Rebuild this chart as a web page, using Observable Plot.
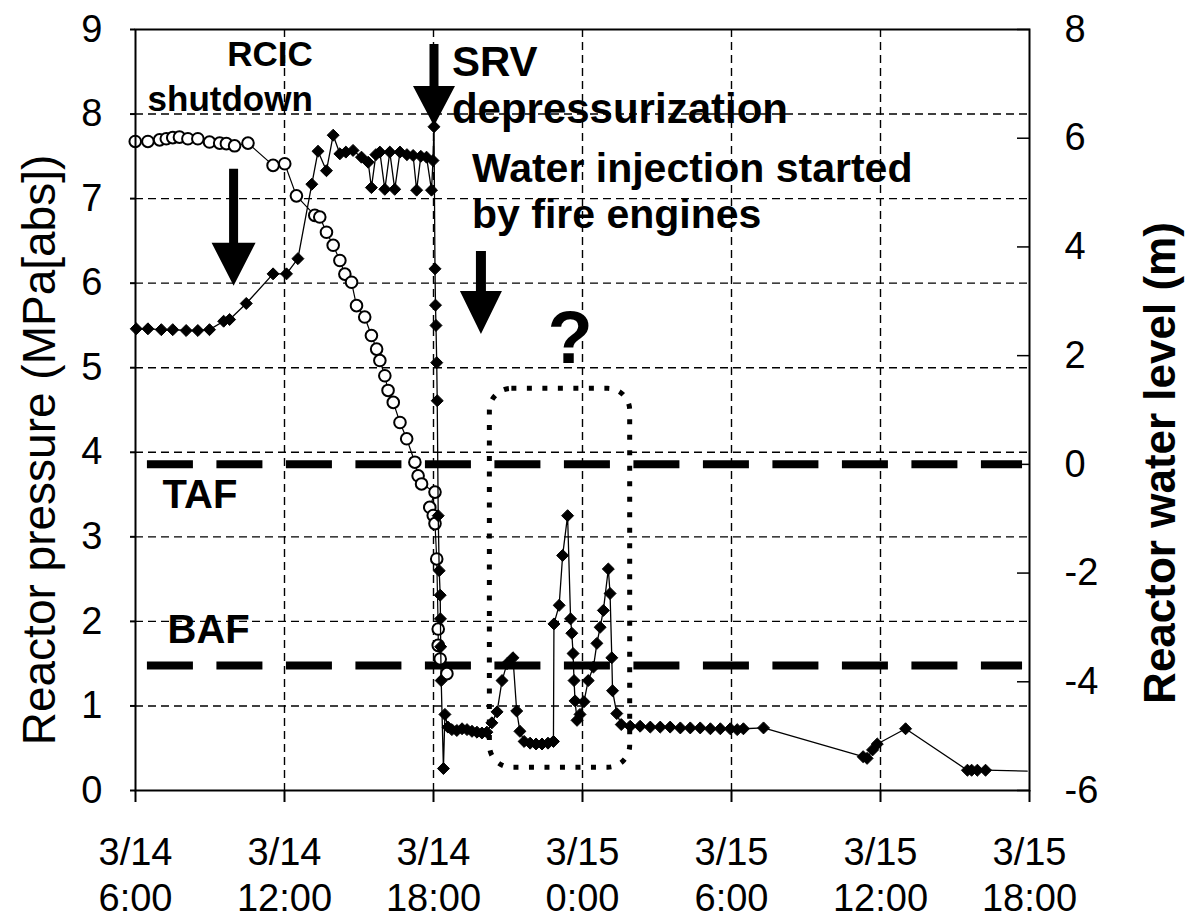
<!DOCTYPE html>
<html><head><meta charset="utf-8">
<script src="https://cdn.jsdelivr.net/npm/d3@7"></script>
<script src="https://cdn.jsdelivr.net/npm/@observablehq/plot@0.6"></script>
<style>
html,body{margin:0;padding:0;background:#fff;}
#chart{width:1188px;height:920px;overflow:hidden;}
</style></head><body><div id="chart"></div>
<script>
// ---------- data ----------
// time in hours since 3/14 0:00
const xTicks = [6, 12, 18, 24, 30, 36, 42];
const xTickLabels = ["3/14\n6:00", "3/14\n12:00", "3/14\n18:00", "3/15\n0:00", "3/15\n6:00", "3/15\n12:00", "3/15\n18:00"];
const pressureTicks = [0, 1, 2, 3, 4, 5, 6, 7, 8, 9];
const levelTicks = [-6, -4, -2, 0, 2, 4, 6, 8];

// Reactor pressure (MPa[abs]) - filled diamonds
const pressureHours = [
  6.03, 6.50, 7.04, 7.50, 8.04, 8.51, 8.98, 9.55, 9.79, 10.46,
  11.54, 12.08, 12.54, 13.10, 13.35, 13.69, 13.96, 14.23, 14.47, 14.76,
  15.10, 15.37, 15.50, 15.68, 15.84, 16.04, 16.24, 16.44, 16.65, 16.93,
  17.18, 17.32, 17.49, 17.72, 17.92, 17.98, 18.02, 18.06, 18.08, 18.10,
  18.13, 18.15, 18.19, 18.23, 18.27, 18.28, 18.29, 18.31, 18.40, 18.46,
  18.58, 18.74, 18.94, 19.15, 19.35, 19.55, 19.75, 19.95, 20.15, 20.35,
  20.56, 20.76, 20.96, 21.20, 21.35, 21.48, 21.65, 21.89, 22.13, 22.37,
  22.61, 22.83, 22.85, 23.06, 23.20, 23.40, 23.52, 23.57, 23.62, 23.66,
  23.70, 23.78, 23.90, 24.06, 24.23, 24.44, 24.58, 24.71, 24.84, 25.04,
  25.11, 25.18, 25.21, 25.38, 25.56, 25.92, 26.32, 26.73, 27.13, 27.53,
  27.94, 28.34, 28.74, 29.15, 29.55, 29.95, 30.23, 30.48, 31.29, 35.30,
  35.46, 35.68, 35.87, 37.01, 39.50, 39.67, 39.90, 40.23, 41.91
];
const pressureMPa = [
  5.46, 5.46, 5.45, 5.45, 5.44, 5.44, 5.45, 5.55, 5.57, 5.76,
  6.11, 6.11, 6.29, 7.17, 7.56, 7.33, 7.75, 7.53, 7.55, 7.57,
  7.49, 7.43, 7.13, 7.52, 7.55, 7.11, 7.55, 7.11, 7.55, 7.52,
  7.51, 7.10, 7.50, 7.49, 7.10, 7.45, 7.85, 6.17, 5.74, 5.50,
  5.06, 4.61, 3.25, 2.60, 2.31, 2.03, 1.70, 1.30, 0.26, 0.90,
  0.75, 0.72, 0.71, 0.73, 0.72, 0.70, 0.69, 0.68, 0.69, 0.80,
  0.93, 1.30, 1.50, 1.57, 0.94, 0.70, 0.58, 0.56, 0.55, 0.55,
  0.56, 0.58, 1.97, 2.19, 2.78, 3.25, 2.03, 1.86, 1.62, 1.30,
  1.06, 0.83, 0.90, 1.05, 1.30, 1.46, 1.74, 1.93, 2.13, 2.62,
  2.33, 1.57, 1.18, 0.91, 0.78, 0.76, 0.76, 0.75, 0.75, 0.75,
  0.74, 0.74, 0.74, 0.73, 0.73, 0.73, 0.72, 0.73, 0.74, 0.40,
  0.38, 0.48, 0.55, 0.73, 0.24, 0.24, 0.24, 0.24, 0.23
];

// Reactor water level (m) - open circles
const levelHours = [
  5.99, 6.50, 6.97, 7.24, 7.50, 7.77, 8.11, 8.51, 8.98, 9.39,
  9.66, 9.99, 10.53, 11.54, 12.01, 12.48, 13.22, 13.42, 13.69, 13.96,
  14.23, 14.43, 14.70, 14.90, 15.23, 15.50, 15.71, 15.84, 16.04, 16.17,
  16.38, 16.65, 16.92, 17.25, 17.38, 17.52, 18.06, 17.85, 17.99, 18.06,
  18.13, 18.19, 18.19, 18.27, 18.54
];
const levelM = [
  5.94, 5.94, 5.97, 5.99, 6.01, 6.02, 5.99, 5.99, 5.93, 5.91,
  5.90, 5.86, 5.91, 5.50, 5.53, 4.94, 4.58, 4.55, 4.27, 4.03,
  3.75, 3.50, 3.35, 2.92, 2.71, 2.37, 2.12, 1.91, 1.63, 1.36,
  1.14, 0.77, 0.47, 0.04, -0.21, -0.36, -0.51, -0.79, -0.94, -1.09,
  -1.74, -3.03, -3.33, -3.58, -3.85
];

// Reference levels (m): top and bottom of active fuel
const fuelLevelNames = ["TAF", "BAF"];
const fuelLevelM = [0, -3.7];

// ---------- build ----------
const FONT = "'Liberation Sans', Arial, Helvetica, sans-serif";
const toLeft = m => (m + 6) * 9 / 14;           // right axis (m) -> left axis units
const toRight = p => Math.round(p * 14 / 9 - 6);

const pressure = pressureHours.map((h, i) => ({h, p: pressureMPa[i]}));
const level = levelHours.map((h, i) => ({h, p: toLeft(levelM[i])}));
const fuel = fuelLevelNames.map((name, i) => ({name, p: toLeft(fuelLevelM[i])}));

function arrowShape(headLen, headHalf, shaftHalf) {
  return {
    draw(c, l) {
      const b = -(l - headLen);
      c.moveTo(-shaftHalf, 0);
      c.lineTo(shaftHalf, 0);
      c.lineTo(shaftHalf, b);
      c.lineTo(headHalf, b);
      c.lineTo(0, -l);
      c.lineTo(-headHalf, b);
      c.lineTo(-shaftHalf, b);
      c.closePath();
    }
  };
}

const gridStyle = {stroke: "black", strokeOpacity: 1, strokeWidth: 1.4, strokeDasharray: "8,5"};
const bold = {fontWeight: "bold", fill: "black", lineAnchor: "bottom"};

const chart = Plot.plot({
  width: 1188,
  height: 920,
  marginLeft: 135,
  marginRight: 159,
  marginTop: 29,
  marginBottom: 130,
  x: {domain: [6, 42], label: null},
  y: {domain: [0, 9], label: null},
  style: {fontFamily: FONT, fontSize: "38px", color: "black", background: "white", overflow: "visible"},
  marks: [
    Plot.gridY(d3.range(1, 9), gridStyle),
    Plot.gridX(xTicks.slice(1, -1), gridStyle),
    // TAF / BAF
    Plot.ruleY(fuel, {y: "p", x1: 6.48, x2: 41.72, stroke: "black", strokeWidth: 8, strokeDasharray: "46,23.5"}),
    Plot.text(fuel, {x: d => d.name === "TAF" ? 7.09 : 7.29, y: d => d.name === "TAF" ? d.p - 0.52 : d.p + 0.26, text: "name", textAnchor: "start", fontSize: 40, ...bold}),
    // dotted "?" box
    Plot.rect([{x1: 20.27, x2: 25.92, y1: 0.27, y2: 4.75}], {x1: "x1", x2: "x2", y1: "y1", y2: "y2", rx: 22, fill: "none", stroke: "black", strokeWidth: 5, strokeDasharray: "5,10.5"}),
    Plot.text(["?"], {x: 23.5, y: 5.06, textAnchor: "middle", fontSize: 74, ...bold}),
    // water level
    Plot.line(level, {x: "h", y: "p", stroke: "black", strokeWidth: 1.2}),
    Plot.dot(level, {x: "h", y: "p", r: 5.8, fill: "white", stroke: "black", strokeWidth: 2}),
    // pressure
    Plot.line(pressure, {x: "h", y: "p", stroke: "black", strokeWidth: 1.3}),
    Plot.dot(pressure, {x: "h", y: "p", filter: (d, i) => i < pressure.length - 1, symbol: "diamond2", r: 5.4, fill: "black", stroke: "black", strokeWidth: 1}),
    // arrows
    Plot.vector([{h: 9.95, p: 5.97}], {x: "h", y: "p", length: 117, rotate: 180, anchor: "end", shape: arrowShape(43, 22, 4.5), fill: "black", stroke: "none"}),
    Plot.vector([{h: 18.02, p: 7.86}], {x: "h", y: "p", length: 82, rotate: 180, anchor: "end", shape: arrowShape(40, 21, 4.5), fill: "black", stroke: "none"}),
    Plot.vector([{h: 19.91, p: 5.40}], {x: "h", y: "p", length: 83, rotate: 180, anchor: "end", shape: arrowShape(43, 21, 5), fill: "black", stroke: "none"}),
    // annotations
    Plot.text(["RCIC\nshutdown"], {x: 13.14, y: 8.04, textAnchor: "end", fontSize: 35, lineHeight: 1.29, ...bold}),
    Plot.text(["SRV\ndepressurization"], {x: 18.74, y: 7.90, textAnchor: "start", fontSize: 42, lineHeight: 1.1, ...bold}),
    Plot.text(["Water injection started\nby fire engines"], {x: 19.55, y: 6.65, textAnchor: "start", fontSize: 41, lineHeight: 1.12, ...bold}),
    // frame & axes
    Plot.frame({stroke: "black", strokeWidth: 2}),
    Plot.axisX(xTicks, {tickSize: 12, tickPadding: 30, fontSize: 38, lineHeight: 1.21, strokeWidth: 2,
      tickFormat: d => xTickLabels[xTicks.indexOf(d)]}),
    Plot.axisY(pressureTicks, {anchor: "left", tickSize: 5, tickPadding: 28, fontSize: 38, strokeWidth: 2, tickFormat: d => String(d)}),
    Plot.axisY(levelTicks.map(toLeft), {anchor: "right", tickSize: -13, strokeWidth: 1.5, tickFormat: () => ""}),
    Plot.axisY(levelTicks.map(toLeft), {anchor: "right", tickSize: 0, tickPadding: 35, fontSize: 38, tickFormat: d => String(toRight(d))}),
    // axis titles
    Plot.text(["Reactor pressure (MPa[abs])"], {frameAnchor: "left", textAnchor: "middle", rotate: -90, dx: -95, dy: 40, fontSize: 46, fill: "black"}),
    Plot.text(["Reactor water level (m)"], {frameAnchor: "right", textAnchor: "middle", rotate: -90, dx: 131, dy: 53, fontSize: 44, fontWeight: "bold", fill: "black"})
  ]
});
document.getElementById("chart").appendChild(chart);
</script>
</body></html>
